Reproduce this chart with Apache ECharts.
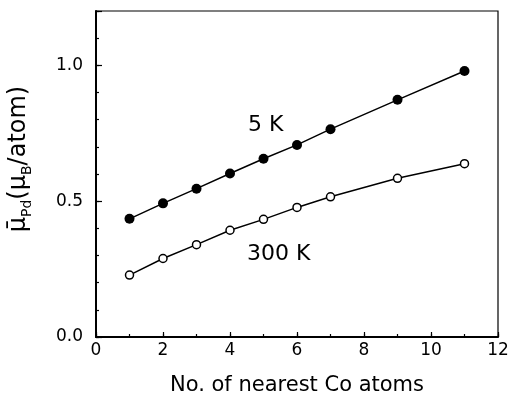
<!DOCTYPE html>
<html><head><meta charset="utf-8">
<script src="https://cdn.jsdelivr.net/npm/echarts@6/dist/echarts.min.js"></script>
<style>html,body{margin:0;padding:0;background:#fff}#c{width:512px;height:396px}</style>
</head><body><div id="c"></div>
<script>
const xValues = [1, 2, 3, 4, 5, 6, 7, 9, 11];
const low5K = [0.435, 0.492, 0.546, 0.602, 0.656, 0.707, 0.765, 0.873, 0.979];
const room300K = [0.228, 0.289, 0.340, 0.393, 0.433, 0.477, 0.516, 0.584, 0.638];
const xTicks = [0, 2, 4, 6, 8, 10, 12];
const yTicks = [0.0, 0.5, 1.0];

const FONT = 'DejaVu Sans';
const chart = echarts.init(document.getElementById('c'));
const baseX = {
  type: 'value', min: 0, max: 12,
  splitLine: { show: false }
};
const baseY = {
  type: 'value', min: 0, max: 1.2,
  splitLine: { show: false }
};
chart.setOption({
  animation: false,
  backgroundColor: '#fff',
  grid: { left: 96, right: 14, top: 11, bottom: 59, show: true, borderColor: '#000', borderWidth: 1.2,
    containLabel: false, outerBoundsMode: 'none' },
  xAxis: [
    Object.assign({}, baseX, {
      interval: 1,
      axisLine: { show: true, onZero: false, lineStyle: { color: '#000', width: 2 } },
      axisTick: { show: true, inside: true, length: 3, lineStyle: { color: '#000', width: 1.2 } },
      axisLabel: { color: '#000', fontFamily: FONT, fontSize: 17, margin: 5,
        formatter: v => xTicks.includes(v) ? String(v) : '' },
      name: 'No. of nearest Co atoms', nameLocation: 'middle', nameGap: 38,
      nameTextStyle: { color: '#000', fontFamily: FONT, fontSize: 21 }
    }),
    Object.assign({}, baseX, {
      interval: 2, position: 'bottom',
      axisLine: { show: false, onZero: false },
      axisTick: { show: true, inside: true, length: 5, lineStyle: { color: '#000', width: 1.2 } },
      axisLabel: { show: false }
    })
  ],
  yAxis: [
    Object.assign({}, baseY, {
      interval: 0.1,
      axisLine: { show: true, lineStyle: { color: '#000', width: 2 } },
      axisTick: { show: true, inside: true, length: 3, lineStyle: { color: '#000', width: 1.2 } },
      axisLabel: { color: '#000', fontFamily: FONT, fontSize: 17, margin: 13,
        formatter: v => yTicks.some(t => Math.abs(t - v) < 1e-9) ? v.toFixed(1) : '' },
      name: '{m|\u03bc\u0304}{s|Pd}{m|(\u03bc}{s|B}{m|/atom)}',
      nameLocation: 'middle', nameGap: 62, nameRotate: 90,
      nameTextStyle: {
        color: '#000', fontFamily: FONT, padding: [0, 0, 0, 30],
        rich: {
          m: { fontSize: 24, fontFamily: FONT, color: '#000', lineHeight: 30, verticalAlign: 'middle' },
          s: { fontSize: 14, fontFamily: FONT, color: '#000', lineHeight: 15, verticalAlign: 'bottom' }
        }
      }
    }),
    Object.assign({}, baseY, {
      interval: 0.5, position: 'left',
      axisLine: { show: false },
      axisTick: { show: true, inside: true, length: 6, lineStyle: { color: '#000', width: 1.2 } },
      axisLabel: { show: false }
    })
  ],
  series: [
    { type: 'line', data: xValues.map((x, i) => [x, low5K[i]]),
      symbol: 'circle', symbolSize: 10,
      lineStyle: { color: '#000', width: 1.5 }, itemStyle: { color: '#000' } },
    { type: 'line', data: xValues.map((x, i) => [x, room300K[i]]),
      symbol: 'circle', symbolSize: 8,
      lineStyle: { color: '#000', width: 1.5 },
      itemStyle: { color: '#fff', borderColor: '#000', borderWidth: 1.5 } }
  ],
  graphic: [
    { type: 'text', left: 248, top: 114, style: { text: '5 K', font: '22px "DejaVu Sans"', fill: '#000' } },
    { type: 'text', left: 247, top: 243, style: { text: '300 K', font: '22px "DejaVu Sans"', fill: '#000' } }
  ]
});
</script></body></html>
